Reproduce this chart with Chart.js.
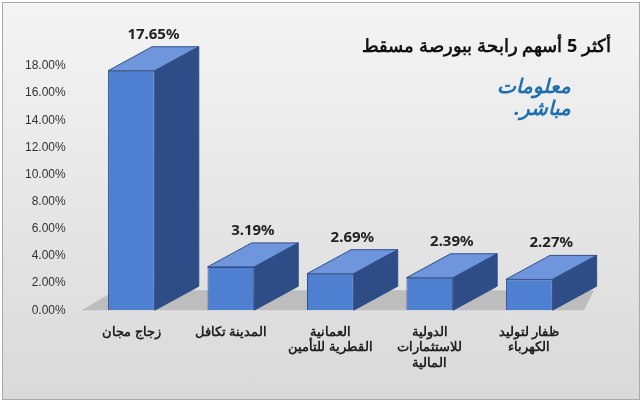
<!DOCTYPE html>
<html><head><meta charset="utf-8">
<script src="https://cdn.jsdelivr.net/npm/chart.js@4"></script>
<style>
body{margin:0;background:#fff}
#wrap{position:relative;width:636px;height:396px;margin:2px;border:1px solid #aaa;
 background:linear-gradient(#f4f4f4,#d9d9d9)}
#title{position:absolute;right:28px;top:30px;font:bold 18px "Noto Sans",sans-serif;direction:rtl;color:#111}
#logo{position:absolute;left:488px;top:72px;font:bold italic 20px "Noto Sans",sans-serif;color:#1f6fb0;direction:rtl;line-height:22px;text-align:right;width:80px}
</style></head><body>
<div id="wrap">
<canvas id="c" width="636" height="396"></canvas>
<div id="title">أكثر 5 أسهم رابحة ببورصة مسقط</div>
<div id="logo">معلومات<br>مباشر.</div>
</div>
<script>
const categories = [['زجاج مجان'], ['المدينة تكافل'], ['العمانية', 'القطرية للتأمين'], ['الدولية', 'للاستثمارات', 'المالية'], ['ظفار لتوليد', 'الكهرباء']];
const gains = [17.65, 3.19, 2.69, 2.39, 2.27];
const DX = 44, DY = 24;

const floor = {
  id: 'floor',
  beforeDatasetsDraw(chart) {
    const { ctx, chartArea: a, scales: { y } } = chart;
    const y0 = y.getPixelForValue(0);
    ctx.save();
    ctx.fillStyle = '#bdbdbd';
    ctx.beginPath();
    ctx.moveTo(a.left, y0);
    ctx.lineTo(a.right + 5, y0);
    ctx.lineTo(a.right + 15, y0 - DY + 4);
    ctx.lineTo(a.left + DX - 10, y0 - DY + 4);
    ctx.closePath();
    ctx.fill();
    ctx.restore();
  }
};

const bars3d = {
  id: 'bars3d',
  afterDatasetsDraw(chart) {
    const { ctx } = chart;
    chart.getDatasetMeta(0).data.forEach((b, i) => {
      const l = b.x - b.width / 2, r = b.x + b.width / 2, t = b.y, bt = b.base;
      ctx.save();
      ctx.strokeStyle = '#2f4f8a';
      ctx.lineWidth = 1;
      ctx.fillStyle = '#6f95dd';
      ctx.beginPath();
      ctx.moveTo(l, t); ctx.lineTo(l + DX, t - DY); ctx.lineTo(r + DX, t - DY); ctx.lineTo(r, t);
      ctx.closePath(); ctx.fill(); ctx.stroke();
      ctx.fillStyle = '#2e4c86';
      ctx.beginPath();
      ctx.moveTo(r, t); ctx.lineTo(r + DX, t - DY); ctx.lineTo(r + DX, bt - DY); ctx.lineTo(r, bt);
      ctx.closePath(); ctx.fill(); ctx.stroke();
      ctx.fillStyle = '#222';
      ctx.font = 'bold 15px "Noto Sans", sans-serif';
      ctx.textAlign = 'center';
      ctx.fillText(gains[i].toFixed(2) + '%', b.x + DX / 2, t - DY - 8);
      ctx.restore();
    });
  }
};

new Chart(document.getElementById('c'), {
  type: 'bar',
  data: {
    labels: categories,
    datasets: [{
      data: gains,
      backgroundColor: '#4f7fd0',
      borderColor: '#2f4f8a',
      borderWidth: 1,
      barPercentage: 0.47,
      categoryPercentage: 1
    }]
  },
  options: {
    responsive: false,
    animation: false,
    layout: { padding: { top: 63, right: 60, left: 14, bottom: 22 } },
    plugins: { legend: { display: false }, tooltip: { enabled: false } },
    scales: {
      x: {
        grid: { display: false },
        border: { display: false },
        ticks: { color: '#222', maxRotation: 0, padding: 6, font: { size: 13, weight: 'bold', family: 'Noto Sans' } }
      },
      y: {
        min: 0, max: 18,
        grid: { display: false },
        border: { display: false },
        ticks: { stepSize: 2, color: '#333', padding: 8, font: { size: 12, family: 'Liberation Sans' },
          callback: v => v.toFixed(2) + '%' }
      }
    }
  },
  plugins: [floor, bars3d]
});
</script>
</body></html>
